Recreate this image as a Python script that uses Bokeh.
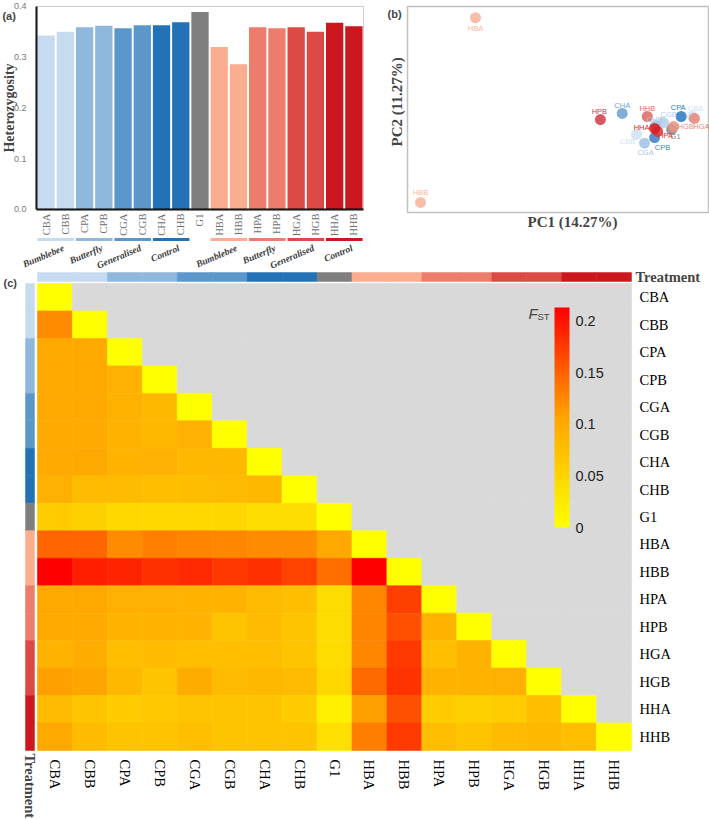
import numpy as np
from math import pi
from bokeh.plotting import figure
from bokeh.layouts import column, row
from bokeh.models import (ColumnDataSource, Range1d, FixedTicker, LinearAxis, Label,
                          BoxAnnotation, LinearColorMapper, ColorBar,
                          PrintfTickFormatter)
from bokeh.core.properties import value
from bokeh.embed import file_html
from bokeh.resources import INLINE

SERIF = "Liberation Serif"
SANS = "Liberation Sans"

# ---------------------------------------------------------------- data
populations = ["CBA", "CBB", "CPA", "CPB", "CGA", "CGB", "CHA", "CHB", "G1",
               "HBA", "HBB", "HPA", "HPB", "HGA", "HGB", "HHA", "HHB"]
treatment_of = ["CB", "CB", "CP", "CP", "CG", "CG", "CH", "CH", "G1",
                "HB", "HB", "HP", "HP", "HG", "HG", "HH", "HH"]
treatment_colors = {"CB": "#c6dbef", "CP": "#8fb8dc", "CG": "#5b97ca", "CH": "#2272b5",
                    "G1": "#7f7f7f", "HB": "#fbad90", "HP": "#ec7c6b", "HG": "#dc4a45",
                    "HH": "#cb181e"}

heterozygosity = [0.343, 0.350, 0.359, 0.362, 0.357, 0.363, 0.363, 0.369, 0.389,
                  0.320, 0.286, 0.359, 0.357, 0.359, 0.350, 0.368, 0.361]
het_ticks = [0, 0.1, 0.2, 0.3, 0.4]

pollinator_groups = ["Bumblebee", "Butterfly", "Generalised", "Control",
                     "Bumblebee", "Butterfly", "Generalised", "Control"]
group_members = [("CBA", "CBB"), ("CPA", "CPB"), ("CGA", "CGB"), ("CHA", "CHB"),
                 ("HBA", "HBB"), ("HPA", "HPB"), ("HGA", "HGB"), ("HHA", "HHB")]

pc1 = [0.136, -0.087, 0.091, -0.015, -0.055, 0.021, -0.144, -0.011, 0.053,
       -0.729, -0.948, -0.003, -0.231, 0.144, 0.061, -0.015, -0.044]
pc2 = [-0.301, -0.432, -0.301, -0.454, -0.495, -0.345, -0.279, -0.366, -0.396,
       0.418, -0.927, -0.410, -0.323, -0.315, -0.374, -0.388, -0.301]
pc1_title = "PC1 (14.27%)"
pc2_title = "PC2 (11.27%)"

# pairwise FST, lower triangle (row population vs. earlier populations)
fst_lower = [
    [],
    [0.123],
    [0.103, 0.103],
    [0.103, 0.103, 0.094],
    [0.103, 0.103, 0.092, 0.084],
    [0.100, 0.100, 0.090, 0.084, 0.094],
    [0.100, 0.103, 0.090, 0.094, 0.084, 0.084],
    [0.094, 0.080, 0.080, 0.076, 0.078, 0.080, 0.084],
    [0.060, 0.056, 0.046, 0.046, 0.046, 0.048, 0.042, 0.042],
    [0.148, 0.148, 0.123, 0.131, 0.128, 0.126, 0.123, 0.123, 0.103],
    [0.213, 0.193, 0.190, 0.182, 0.187, 0.177, 0.182, 0.170, 0.141, 0.213],
    [0.103, 0.103, 0.094, 0.094, 0.090, 0.090, 0.080, 0.076, 0.042, 0.126, 0.172],
    [0.103, 0.100, 0.090, 0.090, 0.090, 0.070, 0.080, 0.070, 0.042, 0.128, 0.162, 0.090],
    [0.090, 0.098, 0.076, 0.080, 0.076, 0.076, 0.076, 0.070, 0.042, 0.126, 0.176, 0.076, 0.090],
    [0.109, 0.106, 0.084, 0.070, 0.098, 0.080, 0.084, 0.080, 0.046, 0.144, 0.180, 0.090, 0.090, 0.094],
    [0.080, 0.070, 0.060, 0.065, 0.070, 0.070, 0.070, 0.060, 0.018, 0.109, 0.162, 0.060, 0.056, 0.060, 0.076],
    [0.103, 0.080, 0.070, 0.070, 0.076, 0.070, 0.070, 0.070, 0.037, 0.132, 0.175, 0.076, 0.070, 0.080, 0.084, 0.076],
]
fst_ticks = [0, 0.05, 0.1, 0.15, 0.2]

# ---------------------------------------------------------------- styling
n = len(populations)
bar_colors = [treatment_colors[t] for t in treatment_of]
pca_colors = ["#cfe1f2", "#d2e3f3", "#2e7bc0", "#3b85c7", "#a3c3e3", "#b5cfea",
              "#6fa3d3", "#a5c5e4", "#8a8a8a", "#f9b49b", "#f9b49b", "#e0343a",
              "#d4404a", "#e8897c", "#e99382", "#d01f27", "#de6c64"]
# label nudges (pixels) so the population names sit beside their points
pca_label_dx = [3, -9, -3, 8, 1, 5, 0, -1, 4, 0, 0, 8, -1, 7, 12, -13, 0]
pca_label_dy = [-8, 7, -9, 10, 9, -8, -8, -6, 7, 11, -10, 4, -8, 8, 0, -1, -8]


def heat_palette(k=256):
    stops = [(0.0, (255, 255, 0)), (0.5, (255, 165, 0)), (1.0, (255, 0, 0))]
    out = []
    for i in range(k):
        t = i / (k - 1)
        for (t0, c0), (t1, c1) in zip(stops[:-1], stops[1:]):
            if t0 <= t <= t1:
                f = (t - t0) / (t1 - t0)
                c = [round(a + (b - a) * f) for a, b in zip(c0, c1)]
                out.append("#%02x%02x%02x" % tuple(c))
                break
    return out


def quiet_axis(ax):
    ax.major_tick_line_color = None
    ax.minor_tick_line_color = None


# ---------------------------------------------------------------- (a) heterozygosity bars
# the frame fills the whole canvas; bars occupy x 0.5..17.5, y 0..0.4
idx = list(range(1, n + 1))
pa = figure(width=368, height=270, x_range=Range1d(-1.3716, 17.76),
            y_range=Range1d(-0.1202, 0.4118), x_axis_location=None,
            output_backend="svg", toolbar_location=None, min_border=0,
            outline_line_color=None)
pa.grid.visible = False
pa.vbar(x=idx, top=heterozygosity, width=0.9, fill_color=bar_colors, line_color=None)

pa.add_layout(BoxAnnotation(left=0.5, right=17.5, bottom=0, top=0.4, fill_alpha=0,
                            line_color="#555555", line_width=1))
ya = pa.yaxis[0]
ya.fixed_location = 0.5
ya.bounds = (0, 0.4)
ya.ticker = FixedTicker(ticks=het_ticks)
ya.formatter = PrintfTickFormatter(format="%.1f")
ya.axis_line_width = 2
ya.axis_line_color = "black"
quiet_axis(ya)
ya.major_label_text_font = SANS
ya.major_label_text_font_size = "9px"
ya.major_label_text_color = "#7a7a7a"
ya.major_label_standoff = 4

xa = LinearAxis(fixed_location=0, bounds=(0.5, 17.5), axis_line_width=2,
                axis_line_color="black", major_label_text_font_size="0px",
                ticker=FixedTicker(ticks=[]))
quiet_axis(xa)
pa.add_layout(xa, "below")

pa.add_layout(Label(x=-0.904, y=0.2, text="Heterozygosity", angle=pi / 2,
                    text_align="center", text_baseline="middle", text_font=SERIF,
                    text_font_style="bold", text_font_size="14px"))

pa.text(x=idx, y=-0.008, text=populations, angle=pi / 2, text_align="right",
        text_baseline="middle", text_font=value(SERIF), text_font_size="10.5px",
        text_color="#6e6e6e")

first = [populations.index(a) + 1 for a, b in group_members]
second = [populations.index(b) + 1 for a, b in group_members]
group_line_colors = [treatment_colors[treatment_of[f - 1]] for f in first]
pa.segment(x0=[f - 0.45 for f in first], y0=[-0.059] * len(first),
           x1=[s + 0.45 for s in second], y1=[-0.059] * len(first),
           line_color=group_line_colors, line_width=3)
pa.text(x=[(f + s) / 2 for f, s in zip(first, second)], y=[-0.066] * len(first),
        text=pollinator_groups, x_offset=6, angle=0.4, text_align="right",
        text_baseline="top", text_font=value(SERIF), text_font_style="bold italic",
        text_font_size="9.5px", text_color="#3a3a3a")
pa.add_layout(Label(x=-1.27, y=0.382, text="(a)", text_font=SANS, text_font_style="bold",
                    text_font_size="11px", text_baseline="middle"))

# ---------------------------------------------------------------- (b) PCA
pb = figure(width=341, height=270, x_range=Range1d(-1.1555, 0.204),
            y_range=Range1d(-1.4223, 0.5437), x_axis_location=None, y_axis_location=None,
            output_backend="svg", toolbar_location=None, min_border=0,
            outline_line_color=None)
pb.grid.visible = False
pb.add_layout(BoxAnnotation(left=-1.0, right=0.2, bottom=-1.0, top=0.5, fill_alpha=0,
                            line_color="#333333", line_width=1.5))
psrc = ColumnDataSource(dict(x=pc1, y=pc2, name=populations, color=pca_colors,
                             dx=pca_label_dx, dy=pca_label_dy))
pb.scatter("x", "y", source=psrc, size=11, fill_color="color", line_color=None, fill_alpha=0.88)
pb.text("x", "y", text="name", source=psrc, x_offset="dx", y_offset="dy",
        text_align="center", text_baseline="middle", text_font=value(SANS),
        text_font_size="7.5px", text_color="color")
pb.add_layout(Label(x=-0.342, y=-1.066, text=pc1_title, text_align="center",
                    text_baseline="middle", text_font=SERIF, text_font_style="bold",
                    text_font_size="15px"))
pb.add_layout(Label(x=-1.04, y=-0.195, text=pc2_title, angle=pi / 2, text_align="center",
                    text_baseline="middle", text_font=SERIF, text_font_style="bold",
                    text_font_size="15px"))
pb.add_layout(Label(x=-1.0797, y=0.449, text="(b)", text_font=SANS, text_font_style="bold",
                    text_font_size="11px", text_baseline="middle"))

# ---------------------------------------------------------------- (c) FST heatmap
fst = np.full((n, n), np.nan)
for i, vals in enumerate(fst_lower):
    fst[i, :i] = vals
    fst[i, i] = 0.0
cx, cy, cv = [], [], []
for i in range(n):
    for j in range(n):
        cx.append(j + 0.5)
        cy.append(i + 0.5)
        cv.append(fst[i, j])
hsrc = ColumnDataSource(dict(x=cx, y=cy, v=np.array(cv)))
fst_max = max(max(r) for r in fst_lower if r)
mapper = LinearColorMapper(palette=heat_palette(), low=0, high=fst_max, nan_color="#d9d9d9")

# cells occupy x 0..17 and y 0..17 (row 0 on top)
ph = figure(width=709, height=549, x_range=Range1d(-1.0589, 19.2324),
            y_range=Range1d(19.5115, -0.4732), x_axis_location=None, y_axis_location=None,
            output_backend="svg", toolbar_location=None, min_border=0,
            outline_line_color=None)
ph.grid.visible = False
ph.rect("x", "y", width=1, height=1, source=hsrc,
        fill_color={"field": "v", "transform": mapper},
        line_color={"field": "v", "transform": mapper}, line_width=0.6)

centers = [i + 0.5 for i in range(n)]
ph.rect(x=centers, y=-0.2366, width=1, height=0.3276, fill_color=bar_colors,
        line_color=bar_colors, line_width=0.5)
ph.rect(x=-0.2147, y=centers, width=0.2575, height=1, fill_color=bar_colors,
        line_color=bar_colors, line_width=0.5)

name_map = {c: p for c, p in zip(centers, populations)}
xb = LinearAxis(fixed_location=17, ticker=FixedTicker(ticks=centers),
                major_label_overrides=name_map, major_label_orientation=-pi / 2,
                axis_line_color=None, major_label_standoff=3, major_label_text_font=SERIF,
                major_label_text_font_size="14.5px", major_label_text_color="black")
quiet_axis(xb)
ph.add_layout(xb, "below")
yr = LinearAxis(fixed_location=17, ticker=FixedTicker(ticks=centers),
                major_label_overrides=name_map, axis_line_color=None,
                major_label_standoff=2, major_label_text_font=SERIF,
                major_label_text_font_size="14.5px", major_label_text_color="black")
quiet_axis(yr)
ph.add_layout(yr, "right")

ph.add_layout(Label(x=17, y=-0.2366, x_offset=4, text="Treatment", text_baseline="middle",
                    text_font=SERIF, text_font_style="bold", text_font_size="14.5px"))
ph.add_layout(Label(x=-0.2147, y=17, y_offset=-3, angle=-pi / 2, text="Treatment",
                    text_align="left", text_baseline="middle", text_font=SERIF,
                    text_font_style="bold", text_font_size="14.5px"))
ph.add_layout(Label(x=-0.973, y=0.0, text="(c)", text_font=SANS, text_font_style="bold",
                    text_font_size="11px", text_baseline="middle"))

cb = ColorBar(color_mapper=mapper, ticker=FixedTicker(ticks=fst_ticks),
              major_label_overrides={t: ("%g" % t) for t in fst_ticks},
              width=15, height=220, location=(554, 292), padding=0,
              bar_line_color=None, major_tick_line_color=None, minor_tick_line_color=None,
              border_line_color=None, background_fill_alpha=0, label_standoff=6,
              major_label_text_font=SANS, major_label_text_font_size="14.5px",
              major_label_text_color="#222222")
ph.add_layout(cb, "center")
ph.add_layout(Label(x=14.05, y=1.09, text="F", text_font=SANS, text_font_style="italic",
                    text_font_size="15px", text_baseline="middle"))
ph.add_layout(Label(x=14.31, y=1.19, text="ST", text_font=SANS,
                    text_font_size="9.5px", text_baseline="middle"))

layout = column(row(pa, pb), ph)
open("out.html", "w").write(file_html(layout, INLINE))
